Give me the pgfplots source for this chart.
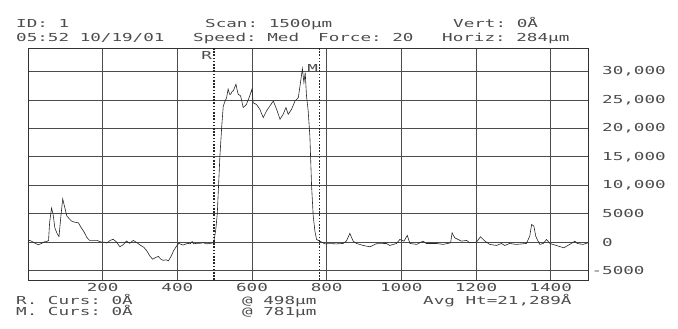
\documentclass[border=0pt]{standalone}
\usepackage{pgfplots}
\pgfplotsset{compat=1.18}
\usepackage{fontspec}
\newfontfamily\dotfont[FakeStretch=1.6]{DejaVu Sans Mono}
\newcommand\df{\dotfont\fontsize{11}{11}\selectfont\frenchspacing\color{black!70}}
\begin{document}
\begin{tikzpicture}[x=1pt,y=1pt]
\path[use as bounding box] (0,0) rectangle (678,329);
\begin{axis}[at={(28pt,49pt)}, anchor=south west, scale only axis,
  width=560pt, height=232pt,
  xmin=0, xmax=1500, ymin=-6650, ymax=34120,
  scaled y ticks=false, scaled x ticks=false,
  xtick={200,400,600,800,1000,1200,1400},
  xticklabels={200,400,600,800,1000,1200,1400},
  ytick={-5000,0,5000,10000,15000,20000,25000,30000},
  yticklabels={\llap{-}5000,0,5000,{10,000},{15,000},{20,000},{25,000},{30,000}},
  yticklabel pos=right,
  yticklabel style={anchor=west, inner sep=0pt, xshift=14pt, font=\df},
  xticklabel style={anchor=north, inner sep=0pt, yshift=-3pt, font=\df},
  major tick length=0pt,
  grid=major,
  major grid style={black!70, line width=0.6pt},
  axis line style={black!80, line width=0.7pt},
  clip=true,
]
\addplot[black!85, line width=0.6pt] coordinates {
(0,200)(5,300)(14,0)(22,-300)(28,-450)(37,-200)(45,100)(50,100)(55,300)
(58,3500)(63,6000)(67,5000)(72,2500)(78,1500)(83,1000)(88,4500)(93,7600)
(97,6500)(104,4600)(112,4000)(117,3700)(125,3500)(135,3400)(142,2600)
(150,1800)(158,800)(165,300)(175,300)(185,300)(197,0)(205,0)(211,-150)
(220,300)(228,500)(236,100)(246,-800)(254,-500)(264,200)(272,-200)(282,300)
(292,-100)(300,-500)(310,-900)(318,-1500)(326,-2400)(334,-3000)(342,-2700)
(349,-2500)(356,-3000)(362,-3200)(370,-3100)(376,-3300)(384,-2400)(390,-1500)
(398,-700)(404,-200)(407,-300)(415,-500)(420,-400)(428,-200)(434,-300)
(440,100)(443,-300)(452,-200)(460,-200)(470,-100)(478,-300)(490,-200)
(496,-100)(498,200)(503,2200)(507,5000)(510,9300)(514,15100)(519,20400)
(523,23900)(528,24800)(532,25400)(536,26900)(540,26000)(543,26000)
(547,26500)(550,26600)(557,27750)(560,26800)(563,26000)(569.5,25700)
(576.5,23650)(585,24200)(594,25700)(600,26900)(603,24500)(612,24200)
(621,23350)(630,21900)(639,23060)(648,23940)(657,24800)(666,23350)
(675,21600)(683.5,22475)(691,23650)(697,22475)(706,23350)(715,24800)
(724,25400)(728,27170)(735,30500)(739,28050)(742.5,29800)(746,25700)
(750.5,23060)(755,18650)(759.6,9860)(764,4580)(768.5,1940)(773,470)
(782,175)(795,-300)(808,-250)(826,-300)(844,-230)(853,200)(862,1530)
(871,180)(880,-230)(898,-580)(916,-820)(933,-280)(960,-230)(969,-580)
(987,-230)(996,470)(1007,180)(1016,1180)(1023,-230)(1041,-400)(1058,180)
(1067,-230)(1094,-230)(1112,-400)(1132,-110)(1136,1650)(1143,770)
(1152,470)(1161,180)(1175,300)(1183,-110)(1201,0)(1212,940)(1224,180)
(1237,-400)(1255,-580)(1268,-230)(1277,-580)(1290,-230)(1308,-400)
(1335,-230)(1344,1060)(1349,3110)(1355,2820)(1360,1060)(1364,470)
(1371,-400)(1380,-230)(1389,470)(1398,-230)(1415,-580)(1435,-990)
(1451,-400)(1465,180)(1471,-230)(1487,-400)(1500,-110)
};
\addplot[black!85, line width=1.6pt, dash pattern=on 1.6pt off 1.6pt] coordinates {(498,-6650)(498,34120)};
\addplot[black!85, line width=1.6pt, dash pattern=on 1.6pt off 1.6pt] coordinates {(781,-6650)(781,34120)};
\node[anchor=north east, inner sep=0pt, font=\df] at (axis cs:493,33600) {R};
\node[anchor=north east, inner sep=0pt, font=\df] at (axis cs:777,31300) {M};
\end{axis}
\node[anchor=base west, inner sep=0pt, font=\df] at (16,301) {ID: 1};
\node[anchor=base west, inner sep=0pt, font=\df] at (205,301) {Scan: 1500µm};
\node[anchor=base west, inner sep=0pt, font=\df] at (453,301) {Vert: 0Å};
\node[anchor=base west, inner sep=0pt, font=\df] at (16,287.3) {05:52 10/19/01};
\node[anchor=base west, inner sep=0pt, font=\df] at (193,287.3) {Speed: Med};
\node[anchor=base west, inner sep=0pt, font=\df] at (318,287.3) {Force: 20};
\node[anchor=base west, inner sep=0pt, font=\df] at (442,287.3) {Horiz: 284µm};
\node[anchor=base west, inner sep=0pt, font=\df] at (16,24) {R. Curs: 0Å};
\node[anchor=base west, inner sep=0pt, font=\df] at (16,13) {M. Curs: 0Å};
\node[anchor=base west, inner sep=0pt, font=\df] at (242,24) {@ 498µm};
\node[anchor=base west, inner sep=0pt, font=\df] at (242,13) {@ 781µm};
\node[anchor=base west, inner sep=0pt, font=\df] at (423,24) {Avg Ht=21,289Å};
\end{tikzpicture}
\end{document}
